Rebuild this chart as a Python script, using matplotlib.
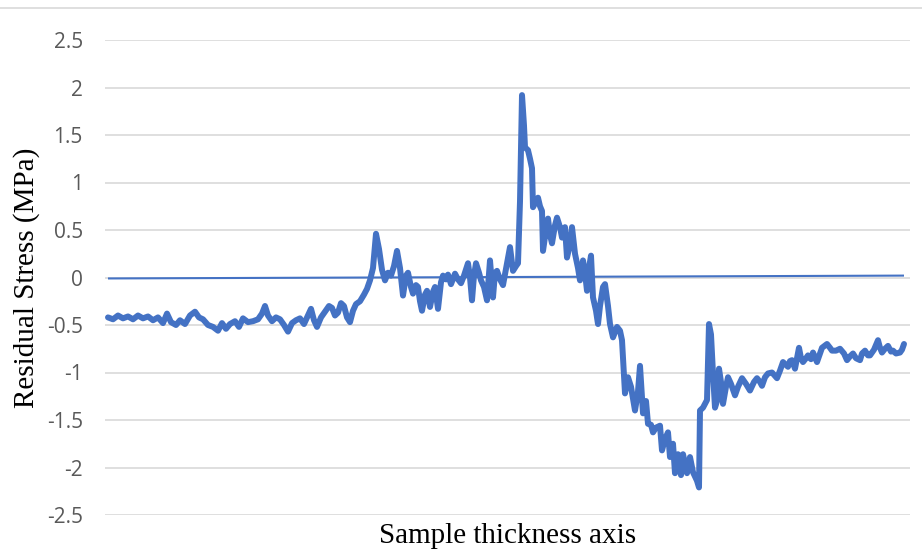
import matplotlib

matplotlib.use('Agg')
import matplotlib.pyplot as plt
from matplotlib.lines import Line2D

# Положение вдоль толщины образца (усл. ед.) и остаточные напряжения, МПа
position = [0, 5, 10, 15, 20, 25, 30, 35, 40, 45, 50, 55, 59, 63, 68, 72, 77, 82, 87, 91,
            95, 100, 105, 110, 114, 118, 122, 127, 131, 135, 140, 145, 150, 154, 157, 160, 164, 168, 172, 176,
            180, 184, 188, 192, 196, 200, 203, 206, 209, 213, 217, 221, 224, 227, 230, 233, 236, 239, 242, 245,
            248, 252, 256, 259, 262, 265, 268, 271, 274, 277, 280, 283, 286, 289, 292, 295, 298, 300, 303, 305,
            308, 310, 312, 314, 317, 319, 322, 325, 327, 330, 333, 335, 338, 340, 343, 347, 350, 353, 356, 360,
            362, 364, 366, 368, 371, 373, 376, 379, 382, 385, 387, 389, 392, 395, 399, 402, 405, 408, 410, 412,
            414, 416, 417, 420, 422, 424, 425, 427, 430, 432, 434, 435, 438, 440, 442, 444, 447, 449, 452, 454,
            457, 459, 462, 464, 467, 470, 472, 475, 477, 479, 481, 483, 485, 488, 490, 492, 495, 497, 500, 502,
            505, 509, 512, 514, 517, 520, 523, 527, 530, 532, 535, 538, 540, 543, 545, 548, 552, 554, 557, 560,
            562, 565, 567, 570, 573, 575, 579, 582, 585, 589, 591, 592, 595, 599, 601, 603, 605, 607, 609, 611,
            613, 615, 618, 620, 623, 627, 630, 634, 638, 642, 646, 649, 652, 654, 657, 660, 664, 669, 672, 675,
            678, 680, 682, 684, 687, 691, 693, 695, 698, 700, 703, 705, 707, 709, 712, 714, 719, 722, 724, 728,
            732, 736, 739, 742, 745, 748, 752, 754, 757, 760, 762, 766, 770, 772, 774, 777, 780, 783, 785, 788,
            792, 794, 796]
stress = [-0.42, -0.44, -0.40, -0.43, -0.41, -0.44, -0.40, -0.43, -0.41, -0.45, -0.42, -0.48, -0.38, -0.47, -0.50, -0.45, -0.49, -0.40, -0.36, -0.42,
          -0.44, -0.50, -0.52, -0.56, -0.48, -0.54, -0.49, -0.46, -0.52, -0.43, -0.47, -0.46, -0.44, -0.38, -0.30, -0.40, -0.46, -0.42, -0.44, -0.50,
          -0.57, -0.48, -0.45, -0.43, -0.49, -0.40, -0.33, -0.45, -0.52, -0.42, -0.36, -0.30, -0.32, -0.40, -0.37, -0.27, -0.30, -0.42, -0.47, -0.35,
          -0.28, -0.25, -0.18, -0.12, -0.03, 0.10, 0.46, 0.30, 0.08, -0.03, 0.05, 0.02, 0.12, 0.28, 0.10, -0.19, 0.02, 0.05, -0.10, -0.17,
          -0.08, -0.10, -0.25, -0.35, -0.18, -0.14, -0.31, -0.15, -0.10, -0.33, -0.05, 0.02, -0.02, 0.03, -0.07, 0.04, -0.02, -0.06, 0.02, 0.15,
          0.00, -0.24, 0.02, 0.15, 0.05, -0.03, -0.10, -0.24, 0.18, -0.21, 0.05, 0.07, -0.02, -0.08, 0.15, 0.32, 0.07, 0.12, 0.15, 0.80,
          1.92, 1.60, 1.37, 1.34, 1.25, 1.15, 0.74, 0.78, 0.84, 0.75, 0.70, 0.28, 0.50, 0.62, 0.45, 0.36, 0.55, 0.63, 0.53, 0.42,
          0.53, 0.21, 0.35, 0.53, 0.25, 0.10, -0.03, 0.18, 0.05, -0.14, 0.10, 0.23, -0.21, -0.35, -0.49, -0.30, -0.10, -0.07, -0.30, -0.49,
          -0.63, -0.52, -0.56, -0.66, -1.22, -1.05, -1.15, -1.40, -1.20, -0.93, -1.43, -1.30, -1.54, -1.55, -1.63, -1.58, -1.56, -1.82, -1.70, -1.63,
          -1.89, -1.75, -2.06, -1.86, -2.08, -1.86, -2.06, -1.89, -2.05, -2.14, -2.21, -1.40, -1.37, -1.29, -0.49, -0.60, -1.01, -1.37, -1.30, -0.96,
          -1.10, -1.33, -1.15, -1.05, -1.12, -1.24, -1.15, -1.06, -1.12, -1.19, -1.10, -1.06, -1.10, -1.14, -1.05, -1.01, -1.00, -1.06, -0.98, -0.89,
          -0.92, -0.94, -0.88, -0.87, -0.96, -0.74, -0.85, -0.89, -0.85, -0.82, -0.86, -0.79, -0.84, -0.89, -0.80, -0.74, -0.70, -0.74, -0.77, -0.77,
          -0.75, -0.80, -0.87, -0.83, -0.80, -0.85, -0.87, -0.80, -0.77, -0.82, -0.82, -0.76, -0.66, -0.74, -0.79, -0.75, -0.72, -0.78, -0.77, -0.80,
          -0.79, -0.76, -0.70]

# Тонкая линия (линия тренда около нуля)
trend_pos = [0, 796]
trend_val = [-0.01, 0.02]

y_ticks = [-2.5, -2, -1.5, -1, -0.5, 0, 0.5, 1, 1.5, 2, 2.5]
y_labels = ['-2.5', '-2', '-1.5', '-1', '-0.5', '0', '0.5', '1', '1.5', '2', '2.5']

blue = '#4472C4'

fig = plt.figure(figsize=(9.22, 5.52), dpi=100)
ax = fig.add_axes([105 / 922, 37 / 552, 805 / 922, 475 / 552])

ax.plot(trend_pos, trend_val, color=blue, linewidth=1.5, solid_capstyle='butt')
ax.plot(position, stress, color=blue, linewidth=4.3, solid_joinstyle='round', solid_capstyle='round')

ax.set_xlim(-3, 802)
ax.set_ylim(-2.5, 2.5)
ax.set_xticks([])
ax.set_yticks(y_ticks)
ax.set_yticklabels(y_labels, fontsize=15, color='#595959', family='Open Sans')
ax.tick_params(axis='y', length=0, pad=16)
ax.grid(axis='y', color='#D9D9D9', linewidth=1.2)
ax.set_axisbelow(True)
for s in ax.spines.values():
    s.set_visible(False)

ax.set_ylabel('Residual Stress (MPa)', family='Liberation Serif', fontsize=21)
ax.yaxis.set_label_coords(-65 / 805, 0.5)
ax.set_xlabel('Sample thickness axis', family='Liberation Serif', fontsize=21, labelpad=5.5)

# Рамка сверху (как у области диаграммы)
fig.add_artist(Line2D([0, 1], [1 - 8 / 552, 1 - 8 / 552], color='#D9D9D9', linewidth=1.2,
                      transform=fig.transFigure))

plt.savefig('out.png', dpi=100)
plt.close()
